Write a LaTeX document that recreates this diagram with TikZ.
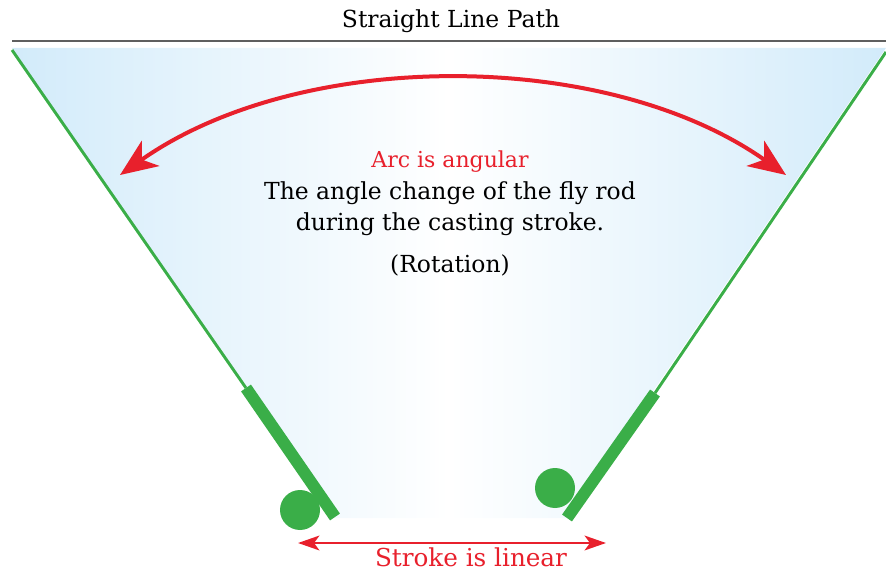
\documentclass[tikz,border=0pt]{standalone}
\usepackage{fontspec}
\setmainfont{DejaVu Serif}
\usetikzlibrary{arrows.meta}
\definecolor{rodgreen}{RGB}{58,174,72}
\definecolor{arcred}{RGB}{232,32,44}
\definecolor{skyfill}{RGB}{210,235,250}
\definecolor{rulegray}{RGB}{95,95,95}
\tikzset{
	redtext/.style={text=arcred, font=\fontsize{16.5}{20}\selectfont},
	bodytext/.style={text=black, font=\fontsize{17.6}{20}\selectfont},
	rodthin/.style={rodgreen, line width=2.2pt},
	rodthick/.style={rodgreen, line width=9pt},
}
\begin{document}
\begin{tikzpicture}[x=0.75pt,y=-0.75pt, line join=round]
	\useasboundingbox (0,0) rectangle (886,570);
	% swing area
	\shade[left color=skyfill, right color=skyfill, middle color=white]
		(12,48)--(886,48)--(567,518)--(335,518)--cycle;
	% straight line path
	\draw[rulegray, line width=1.6pt] (12,41)--(886,41);
	\node[bodytext] (title) at (451,21) {Straight Line Path};
	% rods and hands
	\foreach \tx/\ty/\mx/\my/\bx/\by/\cx/\cy in {12/50/246/388/335/517/300/510, 886/52/655/393/567/518/555/488}{
		\draw[rodthin] (\tx,\ty)--(\mx,\my);
		\draw[rodthick] (\mx,\my)--(\bx,\by);
		\fill[rodgreen] (\cx,\cy) circle (15pt);
	}
	% arc
	\coordinate (arcL) at (120,175);
	\coordinate (arcR) at (786,175);
	\draw[arcred, line width=3pt, {Stealth[length=28pt,width=23pt,inset=8pt]}-{Stealth[length=28pt,width=23pt,inset=8pt]}]
		(arcL) .. controls (300,48) and (606,48) .. (arcR);
	\node[redtext] (arc) at (450,162) {Arc is angular};
	\node[bodytext] (l1) at (450,193) {The angle change of the fly rod};
	\node[bodytext] (l2) at (450,224) {during the casting stroke.};
	\node[bodytext] (l3) at (450,265) {(Rotation)};
	% stroke
	\coordinate (strL) at (298,543);
	\coordinate (strR) at (606,543);
	\draw[arcred, line width=2.2pt, {Stealth[length=16pt,width=11pt,inset=4pt]}-{Stealth[length=16pt,width=11pt,inset=4pt]}] (strL)--(strR);
	\node[redtext, font=\fontsize{18.5}{20}\selectfont, inner sep=0pt, anchor=base] (stroke) at (471,566) {Stroke is linear};
\end{tikzpicture}
\end{document}
